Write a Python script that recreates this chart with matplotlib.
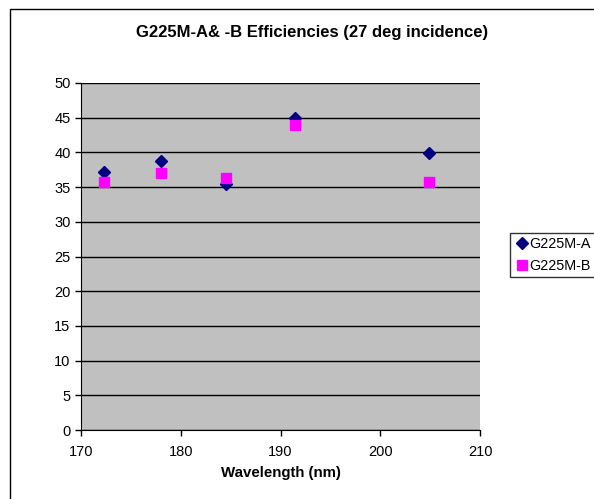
import matplotlib
matplotlib.use("Agg")
from matplotlib import pyplot as plt
from matplotlib.patches import Rectangle

plt.rcParams["font.family"] = ["Liberation Sans", "DejaVu Sans"]

wavelength = [172.3, 178.0, 184.5, 191.5, 204.9]
eff_a = [37.2, 38.8, 35.5, 45.0, 39.9]
eff_b = [35.7, 37.1, 36.3, 43.9, 35.7]

fig = plt.figure(figsize=(5.94, 4.99), dpi=100)
fig.patches.append(Rectangle((10 / 594, -0.1), 1.2, 1 - 9 / 499 + 0.1,
                             transform=fig.transFigure, fill=False,
                             edgecolor="black", linewidth=1))

ax = fig.add_axes([81 / 594, 1 - 430 / 499, 399 / 594, 347 / 499])
ax.set_facecolor("#C0C0C0")

ax.plot(wavelength, eff_a, linestyle="none", marker="D", markersize=6.5,
        color="#000080", label="G225M-A", zorder=3)
ax.plot(wavelength, eff_b, linestyle="none", marker="s", markersize=7,
        color="#FF00FF", label="G225M-B", zorder=4)

ax.set_xlim(170, 210)
ax.set_ylim(0, 50)
ax.set_xticks(range(170, 211, 10))
ax.set_yticks(range(0, 51, 5))
ax.yaxis.grid(True, color="black", linewidth=1)
ax.set_axisbelow(True)

for s in ["top", "right"]:
    ax.spines[s].set_visible(False)
ax.tick_params(direction="out", length=4, labelsize=10.5, width=1)
ax.tick_params(axis="x", pad=7)

ax.set_xlabel("Wavelength (nm)", fontsize=10.8, fontweight="bold", labelpad=5)
fig.text(312 / 594, 1 - 33 / 499, "G225M-A& -B Efficiencies (27 deg incidence)",
         ha="center", va="center", fontsize=12, fontweight="bold")

leg = fig.legend(loc="upper left", bbox_to_anchor=(510 / 594, 1 - 233 / 499),
                 fontsize=10.4, frameon=True, fancybox=False, handletextpad=0.05,
                 handlelength=1.0, borderpad=0.3, borderaxespad=0,
                 labelspacing=0.5, handleheight=0.7)
leg.get_frame().set_edgecolor("black")
leg.get_frame().set_linewidth(1)

fig.savefig("out.png", dpi=100)
